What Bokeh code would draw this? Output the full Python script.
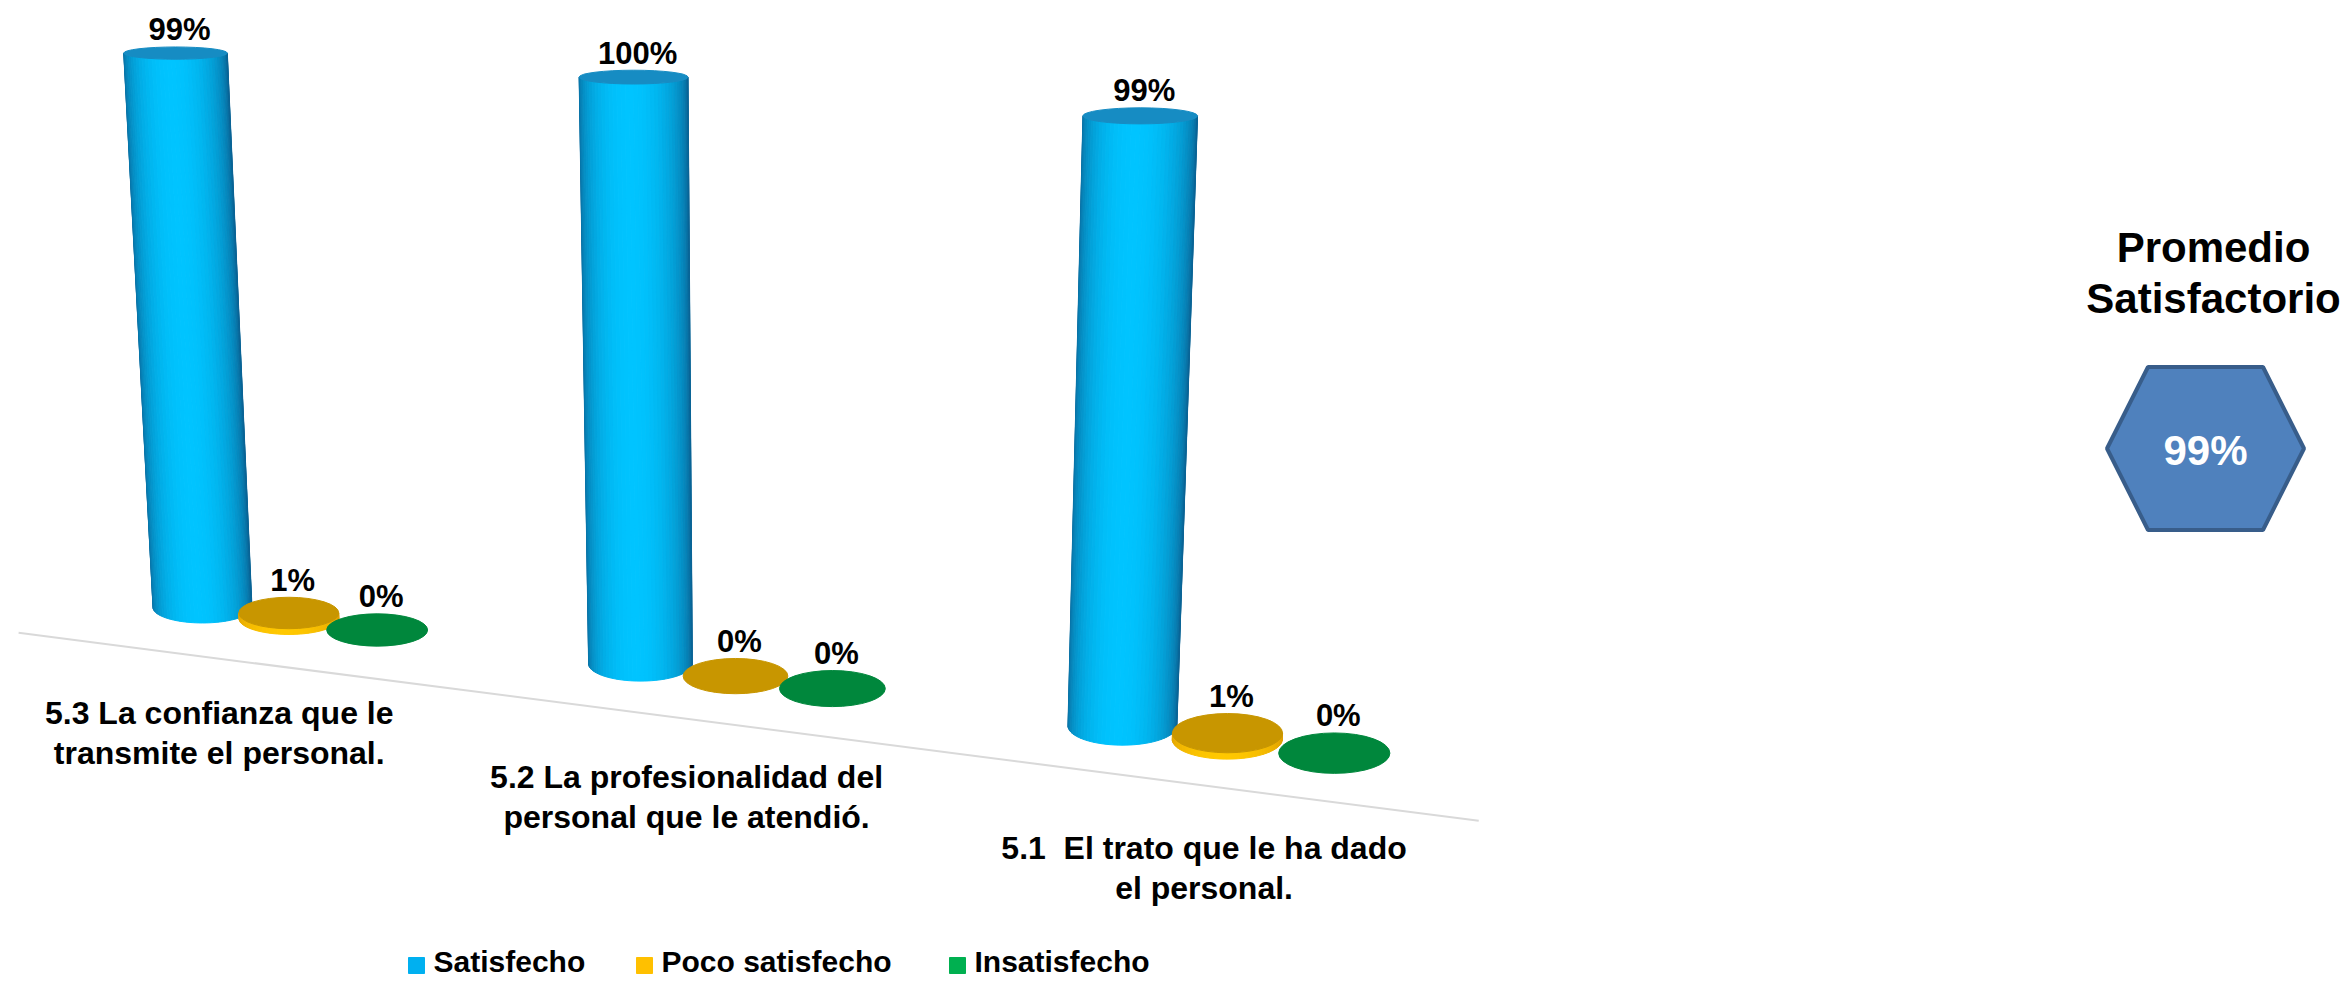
import math
import numpy as np
from bokeh.plotting import figure
from bokeh.models import Range1d
from bokeh.core.properties import value
from bokeh.embed import file_html
from bokeh.resources import INLINE

# ---------------- data ----------------
categories = [
    ["5.3 La confianza que le", "transmite el personal."],
    ["5.2 La profesionalidad del", "personal que le atendió."],
    ["5.1\u00a0\u00a0El trato que le ha dado", "el personal."],
]
series = ["Satisfecho", "Poco satisfecho", "Insatisfecho"]
satisfecho = [99, 100, 99]
poco_satisfecho = [1, 0, 1]
insatisfecho = [0, 0, 0]
values = [satisfecho, poco_satisfecho, insatisfecho]
legend_colors = ["#00B0F0", "#FFC000", "#00B050"]
summary_title = ["Promedio", "Satisfactorio"]

# ---------------- style / projection ----------------
W, H = 2347, 982
FONT = "Liberation Sans"
A, B, C = 408.8, 202.0, -0.0456      # perspective along the category axis
SERIES_STEP = 0.205
PX_PER_PCT = 5.6
RX0 = 49.5
VPX, VPY = 779.0, 12465.0            # vanishing point for verticals

side_edge = [(10, 100, 150), (222, 158, 0), (0, 105, 48)]
side_mid = [(0, 196, 255), (255, 200, 0), (0, 150, 70)]
top_col = [(22, 140, 195), (200, 150, 0), (0, 135, 60)]


def proj_x(u):
    return (A * u + B) / (C * u + 1.0)


def scale(u):
    return 1.0 / (C * u + 1.0)


def base_y(x):
    return 607.0 + 0.1287 * (x - 202.0)


def floor_y(x):
    return base_y(x) + 49.0


def kfac(y):
    return 0.1 + 0.00035 * y


def hexcol(c):
    return "#%02x%02x%02x" % tuple(int(round(v)) for v in c)


def mix(a, b, t):
    return tuple(a[i] + (b[i] - a[i]) * t for i in range(3))


p = figure(width=W, height=H, x_range=Range1d(0, W), y_range=Range1d(H, 0),
           output_backend="svg", toolbar_location=None, min_border=0,
           x_axis_location=None, y_axis_location=None)
p.grid.visible = False
p.outline_line_color = None
p.background_fill_color = "white"

# floor line
u0, u1 = -0.449, 2.68
fx = [proj_x(u0), proj_x(u1)]
p.line(fx, [floor_y(x) for x in fx], line_color="#D9D9D9", line_width=2)

# cylinders
labels = []
N = 40
phis = np.linspace(-math.pi / 2, math.pi / 2, N + 1)
for i in range(len(categories)):
    for j in range(len(series)):
        v = values[j][i]
        u = i + j * SERIES_STEP
        xb = proj_x(u)
        yb = base_y(xb)
        s = scale(u)
        rxb = RX0 * s
        yt = yb - v * PX_PER_PCT * s
        f = (VPY - yt) / (VPY - yb)
        xt = VPX + (xb - VPX) * f
        rxt = rxb * f
        ryb = rxb * kfac(yb)
        ryt = rxt * kfac(yt)
        if v > 0:
            sx, sy, sc = [], [], []
            for kk in range(N):
                a0, a1 = phis[kk], phis[kk + 1]
                sx.append([xb + rxb * math.sin(a0), xb + rxb * math.sin(a1),
                           xt + rxt * math.sin(a1), xt + rxt * math.sin(a0)])
                sy.append([yb + ryb * math.cos(a0), yb + ryb * math.cos(a1),
                           yt + ryt * math.cos(a1), yt + ryt * math.cos(a0)])
                am = 0.5 * (a0 + a1)
                inten = max(0.0, math.cos(am + 0.08)) ** 1.1
                sc.append(hexcol(mix(side_edge[j], side_mid[j], inten)))
            p.patches(sx, sy, fill_color=sc, line_color=sc, line_width=1)
        p.ellipse(x=[xt], y=[yt], width=[2 * rxt], height=[2 * ryt],
                  fill_color=hexcol(top_col[j]), line_color=hexcol(top_col[j]), line_width=1)
        labels.append((xt + 4, yt - ryt - 17, f"{v}%"))

p.text(x=[l[0] for l in labels], y=[l[1] for l in labels], text=[l[2] for l in labels],
       text_font=value(FONT), text_font_style="bold", text_font_size="31px",
       text_align="center", text_baseline="alphabetic", text_color="black")

# category labels
cx, cy, ct = [], [], []
for i, lines in enumerate(categories):
    xl = proj_x(0.04 + 1.06 * i)
    y0 = floor_y(xl) + 54 + 4.5 * i
    for n, line in enumerate(lines):
        cx.append(xl)
        cy.append(y0 + 40 * n)
        ct.append(line)
p.text(x=cx, y=cy, text=ct, text_font=value(FONT), text_font_style="bold",
       text_font_size="32px", text_align="center", text_baseline="middle",
       text_color="black")

# summary hexagon
avg = round(sum(satisfecho) / len(satisfecho))
HX, HY, HW, HT, HH = 2205, 448, 197, 115, 163
p.patch(x=[HX - HW / 2, HX - HT / 2, HX + HT / 2, HX + HW / 2, HX + HT / 2, HX - HT / 2],
        y=[HY, HY - HH / 2, HY - HH / 2, HY, HY + HH / 2, HY + HH / 2],
        fill_color="#4F81BD", line_color="#385D8A", line_width=4)
p.text(x=[HX], y=[HY + 2], text=[f"{avg}%"], text_font=value(FONT), text_font_style="bold",
       text_font_size="42px", text_align="center", text_baseline="middle",
       text_color="white")
p.text(x=[2213, 2213], y=[247, 298], text=summary_title, text_font=value(FONT),
       text_font_style="bold", text_font_size="42px", text_align="center",
       text_baseline="middle", text_color="black")

# legend (drawn by hand)
leg_sq_x = [416, 644, 957]
p.rect(x=leg_sq_x, y=[965] * 3, width=16, height=16, fill_color=legend_colors,
       line_color=legend_colors)
p.text(x=[x + 17 for x in leg_sq_x], y=[961] * 3, text=series, text_font=value(FONT),
       text_font_style="bold", text_font_size="30px", text_align="left",
       text_baseline="middle", text_color="black")

open("out.html", "w").write(file_html(p, INLINE))
